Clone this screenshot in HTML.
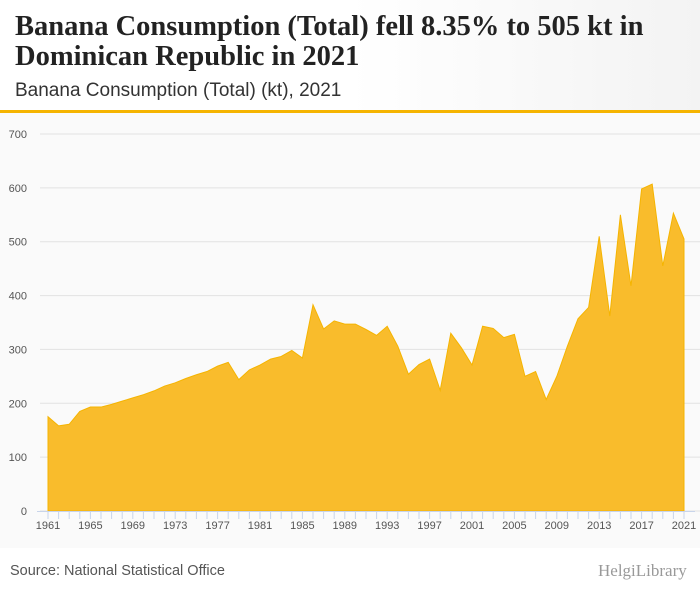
<!DOCTYPE html>
<html><head><meta charset="utf-8">
<style>
body{margin:0;width:700px;height:596px;background:#fff;font-family:"Liberation Sans",sans-serif;overflow:hidden;position:relative}
.hdr{position:absolute;left:0;top:0;width:700px;height:113px;background:linear-gradient(90deg,#fff 0%,#fff 50%,#f3f3f3 100%)}
.hdr:after{content:"";position:absolute;left:0;bottom:0;width:700px;height:3px;background:#f5b400}
h1{position:absolute;left:15px;top:12px;margin:0;font-family:"Liberation Serif",serif;font-size:28.5px;line-height:30px;font-weight:bold;color:#222}
.sub{position:absolute;left:15px;top:80px;font-size:19px;color:#333}
.src{position:absolute;left:10px;top:563px;font-size:14.5px;color:#555}
.logo{position:absolute;left:598px;top:561px;font-size:17px;color:#999;font-family:"Liberation Serif",serif}
</style></head><body>
<div class="hdr">
<h1>Banana Consumption (Total) fell 8.35% to 505 kt in<br>Dominican Republic in 2021</h1>
<div class="sub">Banana Consumption (Total) (kt), 2021</div>
</div>
<svg id="chart" width="700" height="435" style="position:absolute;left:0;top:113px;background:#fafafa"></svg>
<div class="src">Source: National Statistical Office</div>
<div class="logo">HelgiLibrary</div>
<script>
const years=[];for(let y=1961;y<=2021;y++)years.push(y);
const values=[175,158,161,185,193,193,198,204,210,216,223,232,238,246,253,259,269,276,244,262,271,282,287,298,284,383,338,353,347,347,337,326,343,306,254,272,282,224,330,303,271,343,339,322,328,250,259,207,250,306,357,378,510,362,550,418,598,607,455,553,505];
const yTicks=[0,100,200,300,400,500,600,700];
const NS="http://www.w3.org/2000/svg";
const svg=document.getElementById('chart');
const X=y=>48+(y-1961)*(684-48)/60;
const Y=v=>(511-113)-v*(511-134)/700;
function mk(t,a){const e=document.createElementNS(NS,t);for(const k in a)e.setAttribute(k,a[k]);svg.appendChild(e);return e;}
yTicks.forEach(v=>{
 const l=mk('line',{x1:40,x2:700,y1:Y(v),y2:Y(v),stroke:'#e2e2e2','stroke-width':1});
 
 
 const t=mk('text',{x:27,y:Y(v)+4,'text-anchor':'end','font-size':11,fill:'#555','font-family':'Liberation Sans'});
 t.textContent=v;
 
 
});
let d='M'+X(years[0])+','+Y(0);
years.forEach((y,i)=>d+=' L'+X(y)+','+Y(values[i]));
d+=' L'+X(years[years.length-1])+','+Y(0)+' Z';
const p=mk('path',{d:d,fill:'#f9bc2c',stroke:'#f5b400','stroke-width':1});


const ax=mk('line',{x1:37,x2:695,y1:Y(0)+0.5,y2:Y(0)+0.5,stroke:'#c8d4ea'});


years.forEach(y=>{
 const tk=mk('line',{x1:X(y),x2:X(y),y1:Y(0),y2:Y(0)+8,stroke:'#c8d4ea'});
 
 
 if((y-1961)%4===0){
  const t=mk('text',{x:X(y),y:Y(0)+18,'text-anchor':'middle','font-size':11,fill:'#555','font-family':'Liberation Sans'});
  t.textContent=y;
  
  
 }
});
</script>
</body></html>
